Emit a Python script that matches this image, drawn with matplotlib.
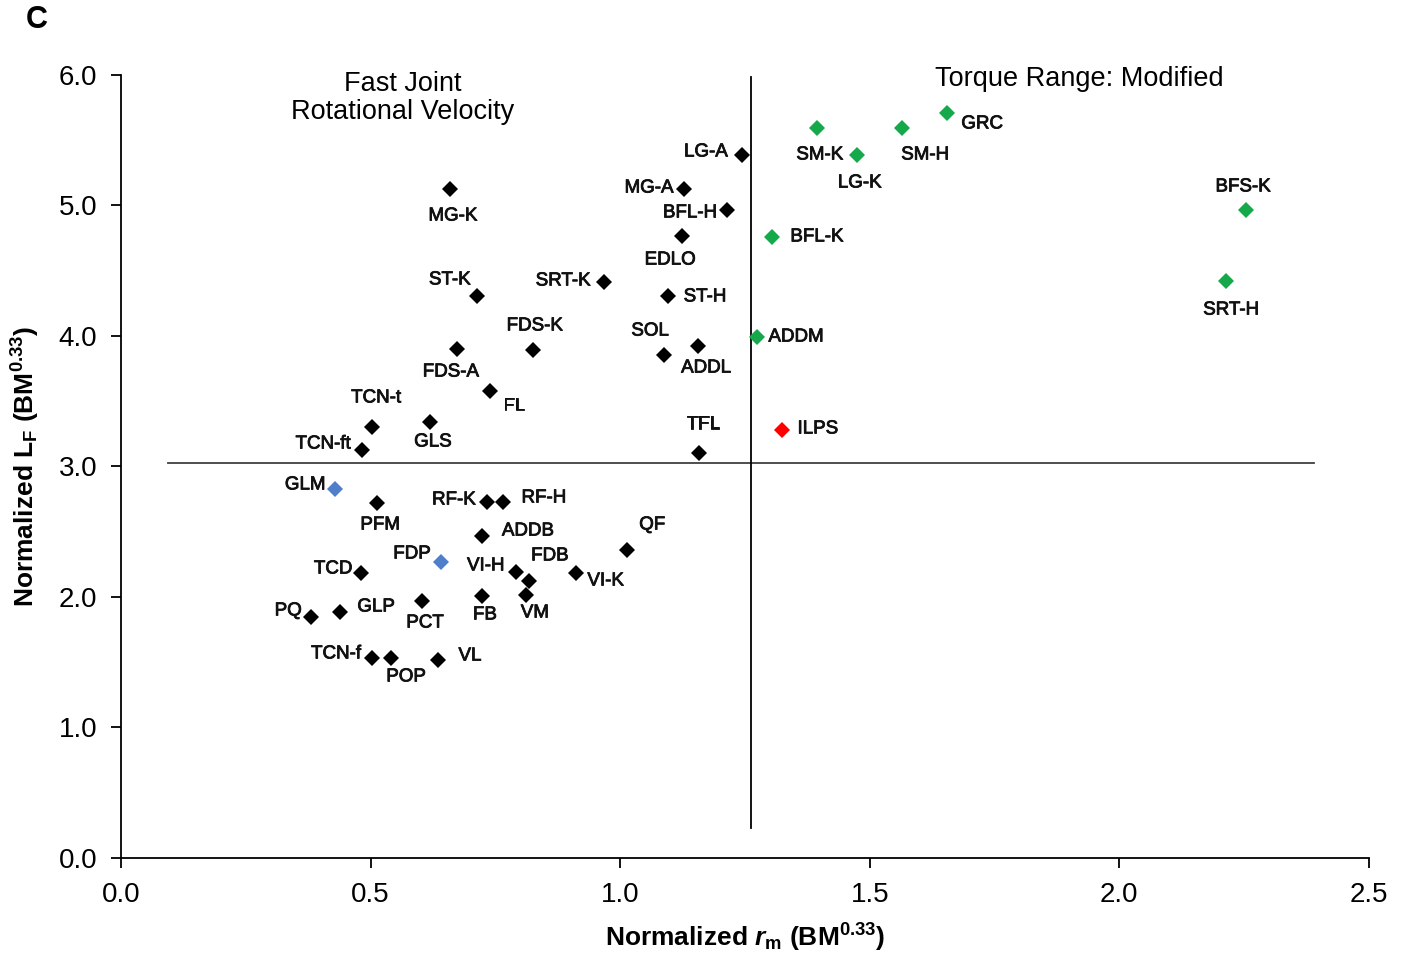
import matplotlib.pyplot as plt
import matplotlib.patheffects as pe

plt.rcParams['font.family'] = ['Liberation Sans', 'DejaVu Sans']
plt.rcParams['mathtext.fontset'] = 'custom'
plt.rcParams['mathtext.rm'] = 'Liberation Sans:bold'
plt.rcParams['mathtext.it'] = 'Liberation Sans:bold:italic'
plt.rcParams['mathtext.bf'] = 'Liberation Sans:bold'

# --- data: normalized rm (x) and normalized LF (y) ---
black_names = ["LG-A", "MG-A", "BFL-H", "EDLO", "SRT-K", "ST-H", "MG-K", "ST-K",
               "FDS-K", "FDS-A", "SOL", "ADDL", "FL", "TCN-t", "GLS", "TCN-ft",
               "TFL", "PFM", "RF-K", "RF-H", "ADDB", "QF", "TCD", "VI-H", "FDB",
               "VI-K", "VM", "FB", "PCT", "PQ", "GLP", "TCN-f", "POP", "VL"]
black_x = [1.244, 1.128, 1.214, 1.124, 0.968, 1.096, 0.659, 0.713,
           0.825, 0.673, 1.088, 1.156, 0.739, 0.503, 0.619, 0.483,
           1.158, 0.513, 0.733, 0.765, 0.723, 1.014, 0.481, 0.791, 0.817,
           0.911, 0.811, 0.723, 0.603, 0.381, 0.439, 0.503, 0.541, 0.635]
black_y = [5.387, 5.126, 4.966, 4.766, 4.414, 4.307, 5.126, 4.307,
           3.893, 3.900, 3.854, 3.923, 3.579, 3.303, 3.341, 3.126,
           3.103, 2.720, 2.728, 2.728, 2.467, 2.360, 2.184, 2.192, 2.123,
           2.184, 2.015, 2.008, 1.969, 1.847, 1.885, 1.533, 1.533, 1.517]

green_names = ["SM-K", "LG-K", "SM-H", "GRC", "BFS-K", "SRT-H", "BFL-K", "ADDM"]
green_x = [1.394, 1.474, 1.565, 1.655, 2.254, 2.214, 1.304, 1.274]
green_y = [5.594, 5.387, 5.594, 5.709, 4.966, 4.421, 4.759, 3.992]

blue_names = ["GLM", "FDP"]
blue_x = [0.429, 0.641]
blue_y = [2.828, 2.268]

red_names = ["ILPS"]
red_x = [1.324]
red_y = [3.280]

# label offsets in pixels (dx, dy), label centered
offsets = {
    "LG-A": (-36, 3), "MG-A": (-35, 1), "BFL-H": (-37, -3), "EDLO": (-12, -24),
    "SRT-K": (-41, 1), "ST-H": (37, -1), "MG-K": (3, -27), "ST-K": (-27, 16),
    "FDS-K": (2, 24), "FDS-A": (-6, -23), "SOL": (-14, 24), "ADDL": (8, -22),
    "FL": (24, -15), "TCN-t": (4, 29), "GLS": (3, -20), "TCN-ft": (-39, 6),
    "TFL": (4, 29), "PFM": (3, -22), "RF-K": (-33, 2), "RF-H": (41, 4),
    "ADDB": (46, 5), "QF": (25, 25), "TCD": (-28, 4), "VI-H": (-30, 6),
    "FDB": (21, 25), "VI-K": (30, -8), "VM": (9, -18), "FB": (3, -19),
    "PCT": (3, -22), "PQ": (-23, 6), "GLP": (36, 5), "TCN-f": (-36, 4),
    "POP": (15, -19), "VL": (32, 4),
    "SM-K": (3, -27), "LG-K": (3, -28), "SM-H": (23, -27), "GRC": (35, -11),
    "BFS-K": (-3, 23), "SRT-H": (5, -29), "BFL-K": (45, 0), "ADDM": (39, 0),
    "GLM": (-30, 4), "FDP": (-29, 8), "ILPS": (36, 1),
}

fig = plt.figure(figsize=(14.1, 9.55), dpi=100)
ax = fig.add_axes([0.0858, 0.1016, 0.8851, 0.8199])

# quadrant lines
ax.plot([0.094, 2.39], [3.027, 3.027], color='#404040', lw=1.3, zorder=1)
ax.plot([1.262, 1.262], [0.23, 5.985], color='black', lw=1.3, zorder=1)

heavy = [pe.withStroke(linewidth=0.6, foreground='#111111')]

groups = [
    (black_names, black_x, black_y, 'black'),
    (green_names, green_x, green_y, '#16A94B'),
    (blue_names, blue_x, blue_y, '#4F7FCB'),
    (red_names, red_x, red_y, '#FF0000'),
]
for names, xs, ys, col in groups:
    ax.plot(xs, ys, linestyle='none', marker='D', ms=8, color=col,
            markeredgewidth=0, zorder=3)
    for n, x, y in zip(names, xs, ys):
        dx, dy = offsets[n]
        ax.annotate(n, (x, y), xytext=(dx, dy), textcoords='offset pixels',
                    ha='center', va='center', fontsize=13.5, color='#111111',
                    path_effects=heavy)

ax.text(0.565, 5.82, "Fast Joint\nRotational Velocity", ha='center', va='center',
        fontsize=19.5, linespacing=1.1)
ax.text(1.919, 5.97, "Torque Range: Modified", ha='center', va='center', fontsize=19.5)

ax.set_xlim(0, 2.5)
ax.set_ylim(0, 6)
ax.set_xticks([0, 0.5, 1.0, 1.5, 2.0, 2.5])
ax.set_xticklabels(["0.0", "0.5", "1.0", "1.5", "2.0", "2.5"])
ax.set_yticks([0, 1, 2, 3, 4, 5, 6])
ax.set_yticklabels(["0.0", "1.0", "2.0", "3.0", "4.0", "5.0", "6.0"])
ax.tick_params(labelsize=20, length=7, width=1.3, direction='out', pad=10)
ax.spines['top'].set_visible(False)
ax.spines['right'].set_visible(False)
ax.spines['left'].set_linewidth(1.3)
ax.spines['bottom'].set_linewidth(1.3)

ax.set_xlabel(r"Normalized $\mathit{r}_{\mathrm{m}}$ (BM$^{\mathrm{0.33}}$)",
              fontsize=19, fontweight='bold', labelpad=10)
ax.set_ylabel(r"Normalized L$_{\mathrm{F}}$ (BM$^{\mathrm{0.33}}$)",
              fontsize=19, fontweight='bold', labelpad=12)

fig.text(0.026, 0.979, "C", fontsize=22, fontweight='bold', ha='center', va='center')

fig.savefig("out.png", dpi=100)
